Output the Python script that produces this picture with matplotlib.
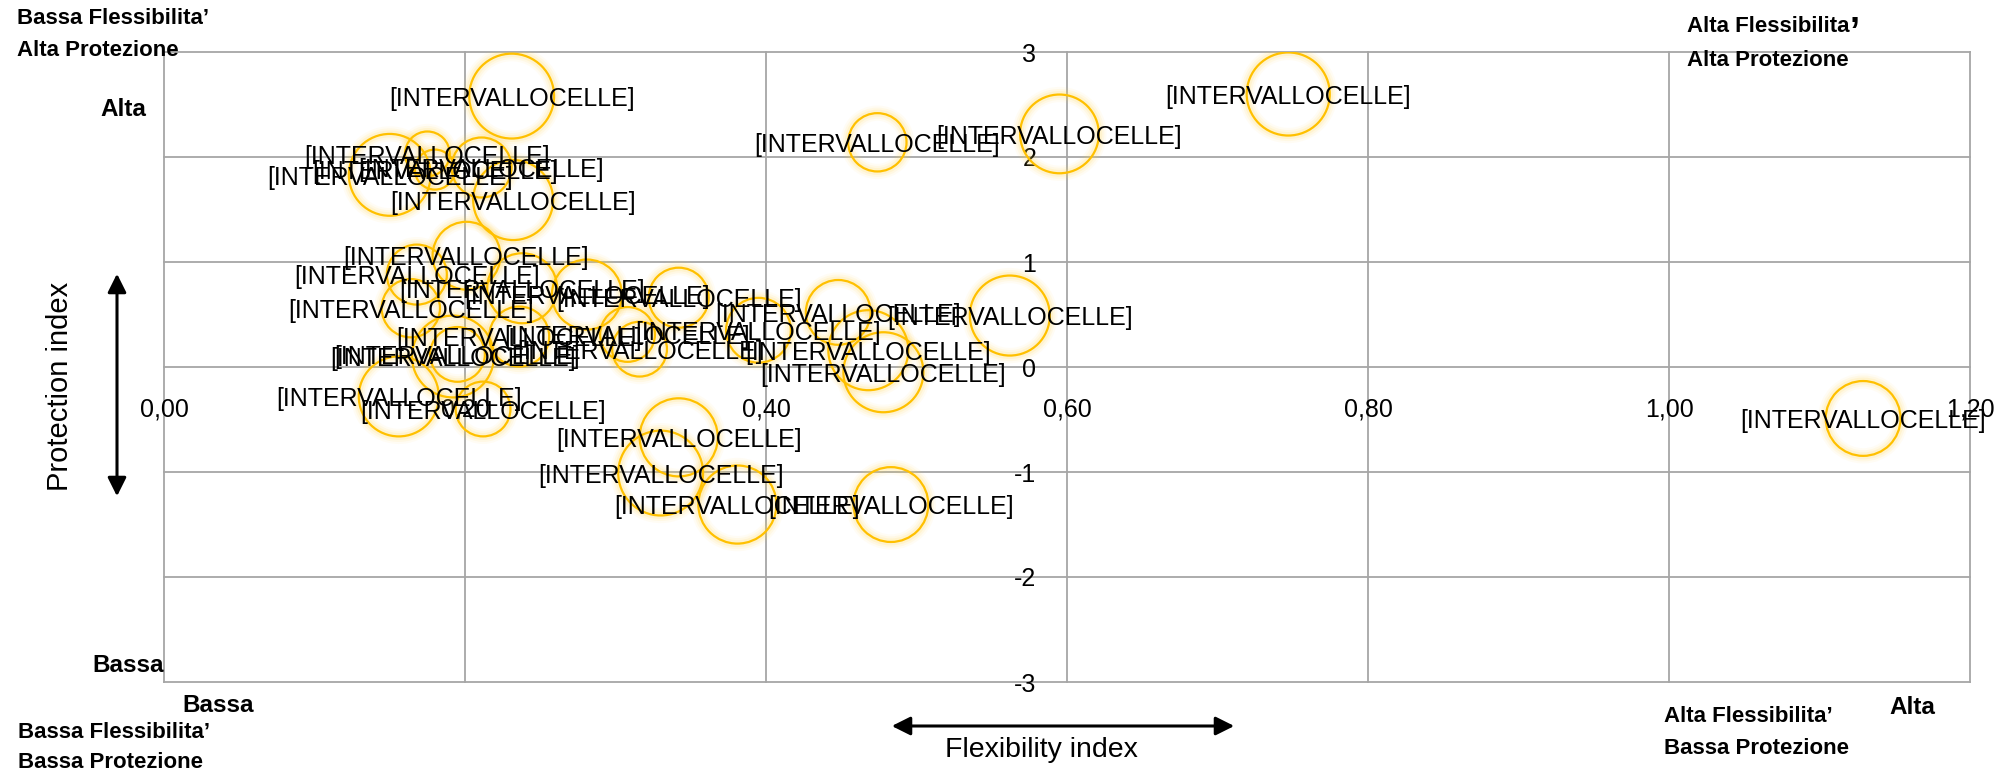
import matplotlib
matplotlib.use("Agg")
import matplotlib.pyplot as plt
import numpy as np

plt.rcParams['font.family'] = ['Liberation Sans', 'DejaVu Sans']

# axis ticks
x_ticks = [0.0, 0.2, 0.4, 0.6, 0.8, 1.0, 1.2]
x_tick_labels = ["0,00", "0,20", "0,40", "0,60", "0,80", "1,00", "1,20"]
y_ticks = [-3, -2, -1, 0, 1, 2, 3]
y_tick_labels = ["-3", "-2", "-1", "0", "1", "2", "3"]

# bubbles
flexibility = [0.231, 0.474, 0.595, 0.747, 1.129, 0.150, 0.175, 0.180,
               0.211, 0.232, 0.201, 0.168, 0.238, 0.164, 0.281, 0.342,
               0.448, 0.562, 0.395, 0.236, 0.308, 0.192, 0.195, 0.316,
               0.468, 0.478, 0.156, 0.212, 0.342, 0.330, 0.381, 0.483]
protection = [2.58, 2.14, 2.22, 2.60, -0.49, 1.83, 2.03, 1.88,
              1.90, 1.59, 1.06, 0.88, 0.75, 0.56, 0.69, 0.66,
              0.52, 0.49, 0.35, 0.29, 0.31, 0.10, 0.12, 0.17,
              0.16, -0.05, -0.28, -0.40, -0.67, -1.01, -1.31, -1.31]
bubble_size = [72, 34, 62, 69, 56, 67, 20, 16,
               36, 64, 46, 36, 49, 34, 49, 36,
               42, 64, 42, 36, 30, 67, 30, 30,
               64, 64, 64, 30, 61, 72, 61, 56]
point_labels = ["[INTERVALLOCELLE]"] * len(flexibility)

fig = plt.figure(figsize=(20.10, 7.74), dpi=100)
ax = fig.add_axes([164 / 2010, 1 - 682 / 774, 1806 / 2010, 630 / 774])
ax.set_xlim(0, 1.2)
ax.set_ylim(-3, 3)

grid_color = "#a6a6a6"
for v in x_ticks:
    ax.axvline(v, color=grid_color, lw=1.3, clip_on=False, zorder=0)
for v in y_ticks:
    ax.axhline(v, color=grid_color, lw=1.3, clip_on=False, zorder=0)

for s in ax.spines.values():
    s.set_visible(False)
ax.spines['left'].set_position(('data', 0.6))
ax.spines['bottom'].set_position(('data', 0))
ax.set_xticks(x_ticks, labels=x_tick_labels)
ax.set_yticks(y_ticks, labels=y_tick_labels)
ax.tick_params(axis='x', length=0, pad=22, labelsize=18)
ax.tick_params(axis='y', length=0, pad=22, labelsize=18)
for lab in ax.get_yticklabels():
    lab.set_verticalalignment('center_baseline')

sizes = np.array(bubble_size) * 51.84
# soft glow
for lw, alpha in [(11, 0.06), (8, 0.09), (5, 0.14)]:
    ax.scatter(flexibility, protection, s=sizes, facecolors='none',
               edgecolors='#ffd54d', linewidths=lw, alpha=alpha, zorder=2)
ax.scatter(flexibility, protection, s=sizes, facecolors='none',
           edgecolors='#ffc000', linewidths=1.6, zorder=3)

for x, y, t in zip(flexibility, protection, point_labels):
    ax.annotate(t, (x, y), xytext=(0, -2), textcoords='offset points',
                ha='center', va='center', fontsize=18, zorder=4)

# quadrant and axis annotations
bold = dict(fontweight='bold', color='black')
fig.text(17 / 2010, 1 - 19 / 774, "Bassa Flessibilita’", fontsize=16, va='center', **bold)
fig.text(17 / 2010, 1 - 51 / 774, "Alta Protezione", fontsize=16, va='center', **bold)
fig.text(1687 / 2010, 1 - 27 / 774, "Alta Flessibilita", fontsize=16, va='center', **bold)
fig.text(1850 / 2010, 1 - 33 / 774, "’", fontsize=26, va='center', **bold)
fig.text(1687 / 2010, 1 - 60 / 774, "Alta Protezione", fontsize=16, va='center', **bold)
fig.text(18 / 2010, 1 - 732 / 774, "Bassa Flessibilita’", fontsize=16, va='center', **bold)
fig.text(18 / 2010, 1 - 763 / 774, "Bassa Protezione", fontsize=16, va='center', **bold)
fig.text(1664 / 2010, 1 - 717 / 774, "Alta Flessibilita’", fontsize=16, va='center', **bold)
fig.text(1664 / 2010, 1 - 749 / 774, "Bassa Protezione", fontsize=16, va='center', **bold)

fig.text(146 / 2010, 1 - 110 / 774, "Alta", fontsize=17.5, ha='right', va='center', **bold)
fig.text(164 / 2010, 1 - 666 / 774, "Bassa", fontsize=17.5, ha='right', va='center', **bold)
fig.text(182 / 2010, 1 - 705 / 774, "Bassa", fontsize=17.5, ha='left', va='center', **bold)
fig.text(1889 / 2010, 1 - 707 / 774, "Alta", fontsize=17.5, ha='left', va='center', **bold)

fig.text(1041 / 2010, 1 - 750 / 774, "Flexibility index", fontsize=20.5, ha='center', va='center')
fig.text(60 / 2010, 1 - 386 / 774, "Protection index", fontsize=21, ha='center', va='center',
         rotation=90)

arrow = dict(arrowstyle='<|-|>', color='black', lw=2.2, mutation_scale=28)
fig.add_artist(matplotlib.patches.FancyArrowPatch((889 / 2010, 1 - 726 / 774), (1237 / 2010, 1 - 726 / 774),
                                                  transform=fig.transFigure, **arrow))
fig.add_artist(matplotlib.patches.FancyArrowPatch((117 / 2010, 1 - 271 / 774), (117 / 2010, 1 - 499 / 774),
                                                  transform=fig.transFigure, **arrow))

fig.savefig("out.png", dpi=100)
